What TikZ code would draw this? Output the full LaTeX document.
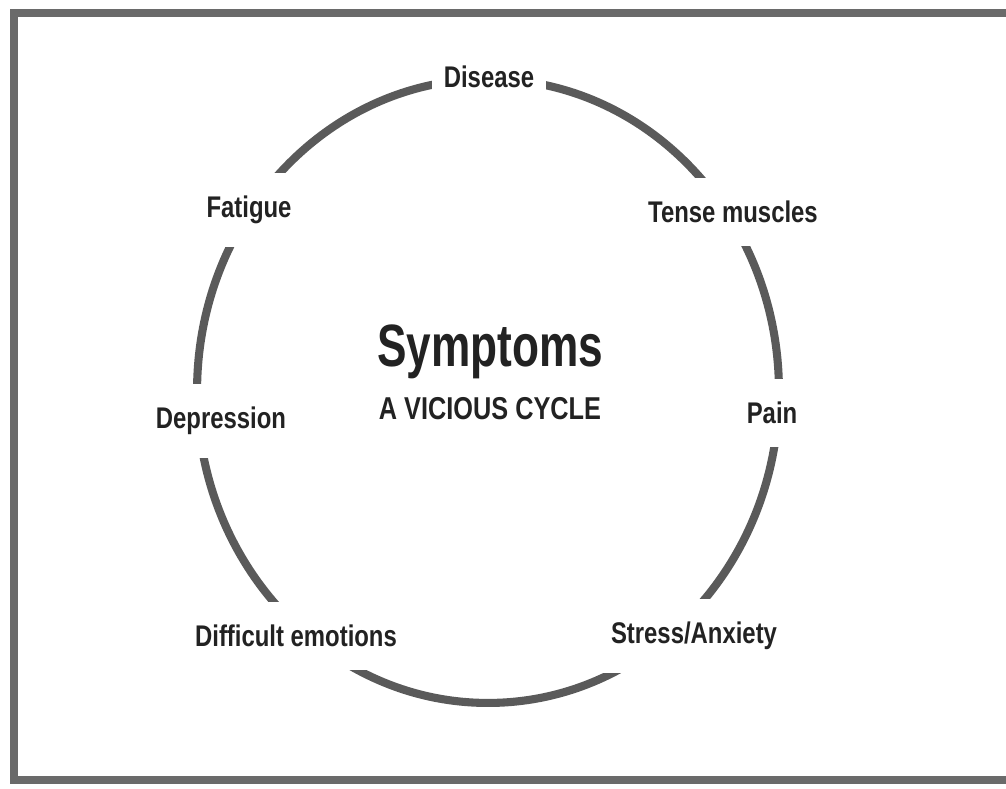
\documentclass[tikz,border=0pt]{standalone}
\usepackage{fontspec}
\setmainfont[FakeStretch=0.8]{Liberation Sans}
\newfontfamily\titlefont[FakeStretch=0.74]{Liberation Sans}
\usetikzlibrary{positioning}

\definecolor{ringgray}{HTML}{5A5A5A}
\definecolor{framegray}{HTML}{6A6A6A}
\definecolor{inkdark}{HTML}{222222}

\begin{document}
\begin{tikzpicture}[
    x=0.02cm, y=-0.02cm,
    font=\bfseries,
    stage/.style={
        fill=white, text=inkdark,
        inner xsep=7pt, inner ysep=13pt,
        font=\fontsize{17}{19}\selectfont\bfseries
    },
    title/.style={
        text=inkdark, inner sep=0pt,
        font=\titlefont\fontsize{34}{36}\selectfont\bfseries
    },
    subtitle/.style={
        text=inkdark, inner sep=0pt,
        font=\fontsize{18}{20}\selectfont\bfseries
    },
    ring/.style={draw=ringgray, line width=4.6pt},
    frame/.style={draw=framegray, line width=4.5pt}
]
\useasboundingbox (0,0) rectangle (1006,788);

% 1. FRAME (open on the right)
\draw[frame] (1010,13) -- (14,13) -- (14,780) -- (1010,780);

% 2. THE CYCLE
\draw[ring] (488,391) ellipse [x radius=5.82cm, y radius=6.24cm];

% 3. STAGES round the cycle
\node[stage, inner ysep=9pt] (Disease) at (489,77) {Disease};
\node[stage] (Tense) at (733,212) {Tense muscles};
\node[stage] (Pain) at (772,413) {Pain};
\node[stage] (Stress) at (694,636) {Stress/Anxiety};
\node[stage] (Emotions) at (296,636) {Difficult emotions};
\node[stage] (Depression) at (221,421) {Depression};
\node[stage] (Fatigue) at (249,210) {Fatigue};

% 4. CENTRE
\node[title] (Symptoms) at (490,352) {Symptoms};
\node[subtitle, below=10pt of Symptoms] (Vicious) {A VICIOUS CYCLE};

\end{tikzpicture}
\end{document}
